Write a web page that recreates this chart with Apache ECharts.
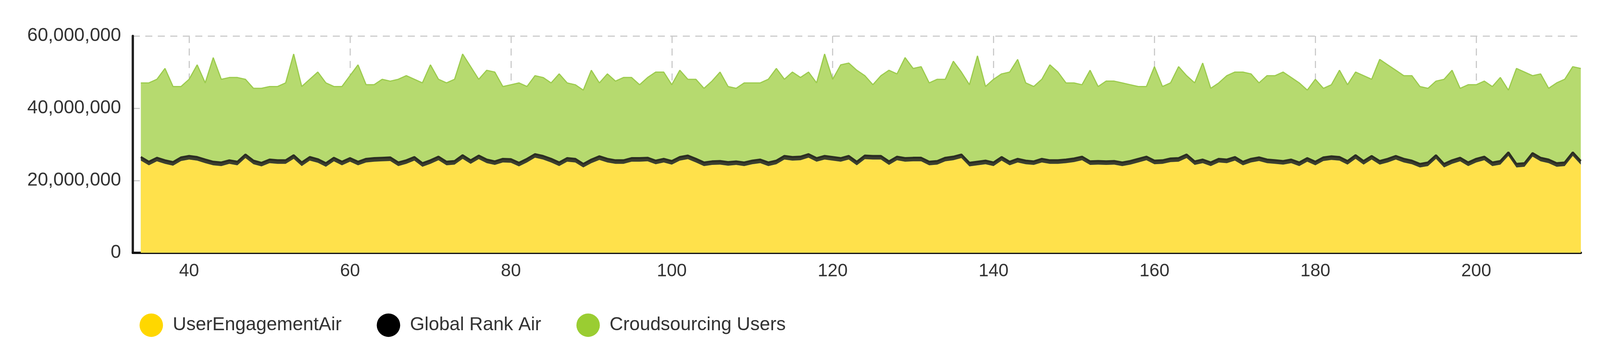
<!DOCTYPE html>
<html>
<head>
<meta charset="utf-8">
<script src="https://cdn.jsdelivr.net/npm/echarts@6/dist/echarts.min.js"></script>
<style>
  html, body { margin: 0; padding: 0; background: #fff; width: 100%; height: 100%; overflow: hidden; }
  #chart { width: 100vw; height: 100vh; }
</style>
</head>
<body>
<div id="chart"></div>
<script type="text/javascript">
// x runs 33..213, data from 34
var firstDay = 33, lastDay = 213;
var xTicks = [40, 60, 80, 100, 120, 140, 160, 180, 200];
var yTicks = [0, 20000000, 40000000, 60000000];

// millions, days 34..213
var userEngagement = [
    25.5,24.2,25.3,24.6,24.1,25.4,25.8,25.5,24.8,24.2,24.0,24.6,24.2,26.2,24.5,23.9,24.8,24.6,24.6,26.0,
    24.0,25.5,24.9,23.8,25.3,24.2,25.2,24.2,25.0,25.2,25.3,25.4,24.0,24.6,25.5,23.8,24.6,25.6,24.2,24.4,
    26.0,24.6,25.9,24.8,24.3,25.0,24.9,23.9,25.0,26.3,25.8,25.0,24.0,25.2,25.0,23.6,24.8,25.7,25.0,24.6,
    24.6,25.2,25.2,25.3,24.5,25.0,24.4,25.5,25.9,25.0,24.0,24.3,24.4,24.1,24.3,24.0,24.5,24.8,24.0,24.5,
    25.8,25.5,25.6,26.3,25.2,25.8,25.5,25.2,25.8,24.2,25.9,25.8,25.8,24.3,25.6,25.2,25.3,25.3,24.2,24.4,
    25.3,25.6,26.2,23.9,24.2,24.5,24.0,25.5,24.2,25.0,24.5,24.3,25.0,24.6,24.6,24.8,25.1,25.6,24.3,24.4,
    24.3,24.4,24.0,24.4,25.0,25.6,24.5,24.6,25.1,25.2,26.2,24.3,24.8,24.0,25.0,24.8,25.5,24.2,25.0,25.4,
    24.8,24.6,24.4,24.8,24.0,25.2,24.2,25.4,25.7,25.5,24.4,26.0,24.4,25.8,24.4,25.0,25.8,25.0,24.5,23.6,
    24.0,26.0,23.6,24.6,25.3,24.0,25.0,25.6,24.0,24.4,26.8,23.6,23.8,26.6,25.3,24.8,23.8,24.0,26.8,24.4
];
// thickness of the dark band stacked on top
var globalRank = [
    1.0,1.0,1.0,1.0,1.0,1.0,1.0,1.0,1.0,1.0,1.0,1.0,1.0,1.0,1.0,1.0,1.0,1.0,1.0,1.0,
    1.0,1.0,1.0,1.0,1.0,1.0,1.0,1.0,1.0,1.0,1.0,1.0,1.0,1.0,1.0,1.0,1.0,1.0,1.0,1.0,
    1.0,1.0,1.0,1.0,1.0,1.0,1.0,1.0,1.0,1.0,1.0,1.0,1.0,1.0,1.0,1.0,1.0,1.0,1.0,1.0,
    1.0,1.0,1.0,1.0,1.0,1.0,1.0,1.0,1.0,1.0,1.0,1.0,1.0,1.0,1.0,1.0,1.0,1.0,1.0,1.0,
    1.0,1.0,1.0,1.0,1.0,1.0,1.0,1.0,1.0,1.0,1.0,1.0,1.0,1.0,1.0,1.0,1.0,1.0,1.0,1.0,
    1.0,1.0,1.0,1.0,1.0,1.0,1.0,1.0,1.0,1.0,1.0,1.0,1.0,1.0,1.0,1.0,1.0,1.0,1.0,1.0,
    1.0,1.0,1.0,1.0,1.0,1.0,1.0,1.0,1.0,1.0,1.0,1.0,1.0,1.0,1.0,1.0,1.0,1.0,1.0,1.0,
    1.0,1.0,1.0,1.0,1.0,1.0,1.0,1.0,1.0,1.0,1.0,1.0,1.0,1.0,1.0,1.0,1.0,1.0,1.0,1.0,
    1.0,1.0,1.0,1.0,1.0,1.0,1.0,1.0,1.0,1.0,1.0,1.0,1.0,1.0,1.0,1.0,1.0,1.0,1.0,1.0
];
// top of the green area (total), millions
var crowdTotal = [
    47,47,48,51,46,46,48,52,47,54,48,48.5,48.5,48,45.5,45.5,46,46,47,55,
    46,48,50,47,46,46,49,52,46.5,46.5,48,47.5,48,49,48,47,52,48,47,48,
    55,51.5,48,50.5,50,46,46.5,47,46,49,48.5,47,49.5,47,46.5,45,50.5,47,49.5,47.5,
    48.5,48.5,46.5,48.5,50,50,46.5,50.5,48,48,45.5,47.5,50,46,45.5,47,47,47,48,51,
    48,50,48.5,50,47,55,48,52,52.5,50.5,49,46.5,49,50.5,49.5,54,51,51.5,47,48,
    48,53,50,46.5,54.5,46,48,49.5,50,53.5,47,46,48,52,50,47,47,46.5,50.5,46,
    47.5,47.5,47,46.5,46,46,51.5,46,47,51.5,49,47,52.5,45.5,47,49,50,50,49.5,47,
    49,49,50,48.5,47,45,48,45.5,46.5,50.5,46.5,50,49,48,53.5,52,50.5,49,49,46,
    45.5,47.5,48,50.5,45.5,46.5,46.5,47.5,46,48.5,45,51,50,49,49.5,45.5,47,48,51.5,51
];

var days = [];
for (var d = firstDay; d <= lastDay; d++) days.push(String(d));
function toSeries(arr) {
    return [null].concat(arr.map(function (v) { return v * 1000000; }));
}
function isTick(i, v) { return xTicks.indexOf(Number(v)) >= 0; }

var myChart = echarts.init(document.getElementById('chart'));
var option = {
    animation: false,
    grid: { left: '8.3%', right: '1.2%', top: '10.1%', bottom: '29%' },
    legend: {
        data: ['UserEngagementAir', 'Global Rank Air', 'Croudsourcing Users'],
        left: '8.6%', top: '87.5%',
        icon: 'circle', itemWidth: 60, itemHeight: 60, itemGap: 90,
        textStyle: { fontSize: 48, color: '#333', fontFamily: 'Liberation Sans, Arial', padding: [0, 0, 0, 20] }
    },
    xAxis: {
        type: 'category', data: days, boundaryGap: false,
        axisLine: { lineStyle: { color: '#111', width: 6 } },
        axisTick: { show: false },
        axisLabel: { interval: isTick, fontSize: 46, color: '#333', margin: 25, fontFamily: 'Liberation Sans, Arial' },
        splitLine: { show: true, interval: isTick, lineStyle: { color: '#ccc', width: 3, type: [18, 14] } }
    },
    yAxis: {
        type: 'value', min: 0, max: 60000000, interval: 20000000,
        axisLine: { show: true, lineStyle: { color: '#222', width: 6 } },
        axisTick: { show: false },
        axisLabel: {
            fontSize: 48, color: '#333', margin: 30, fontFamily: 'Liberation Sans, Arial',
            customValues: yTicks,
            formatter: function (v) { return v.toLocaleString('en-US'); }
        },
        splitLine: { lineStyle: { color: '#ccc', width: 3, type: [18, 14] } }
    },
    series: [
        {
            name: 'Croudsourcing Users', type: 'line', data: toSeries(crowdTotal),
            symbol: 'none', z: 1,
            itemStyle: { color: '#9acd32' },
            lineStyle: { color: '#9ccb4e', width: 3 },
            areaStyle: { color: '#b6da6f', opacity: 1 }
        },
        {
            name: 'UserEngagementAir', type: 'line', stack: 'base', data: toSeries(userEngagement),
            symbol: 'none', z: 2,
            itemStyle: { color: '#ffd700' },
            lineStyle: { width: 0 },
            areaStyle: { color: '#ffe14b', opacity: 1 }
        },
        {
            name: 'Global Rank Air', type: 'line', stack: 'base', data: toSeries(globalRank),
            symbol: 'none', z: 3,
            itemStyle: { color: '#000' },
            lineStyle: { color: '#2b2d22', width: 5 },
            areaStyle: { color: '#3c3f2f', opacity: 1 }
        }
    ]
};
myChart.setOption(option);
window.onresize = function () { myChart.resize(); };
</script>
</body>
</html>
